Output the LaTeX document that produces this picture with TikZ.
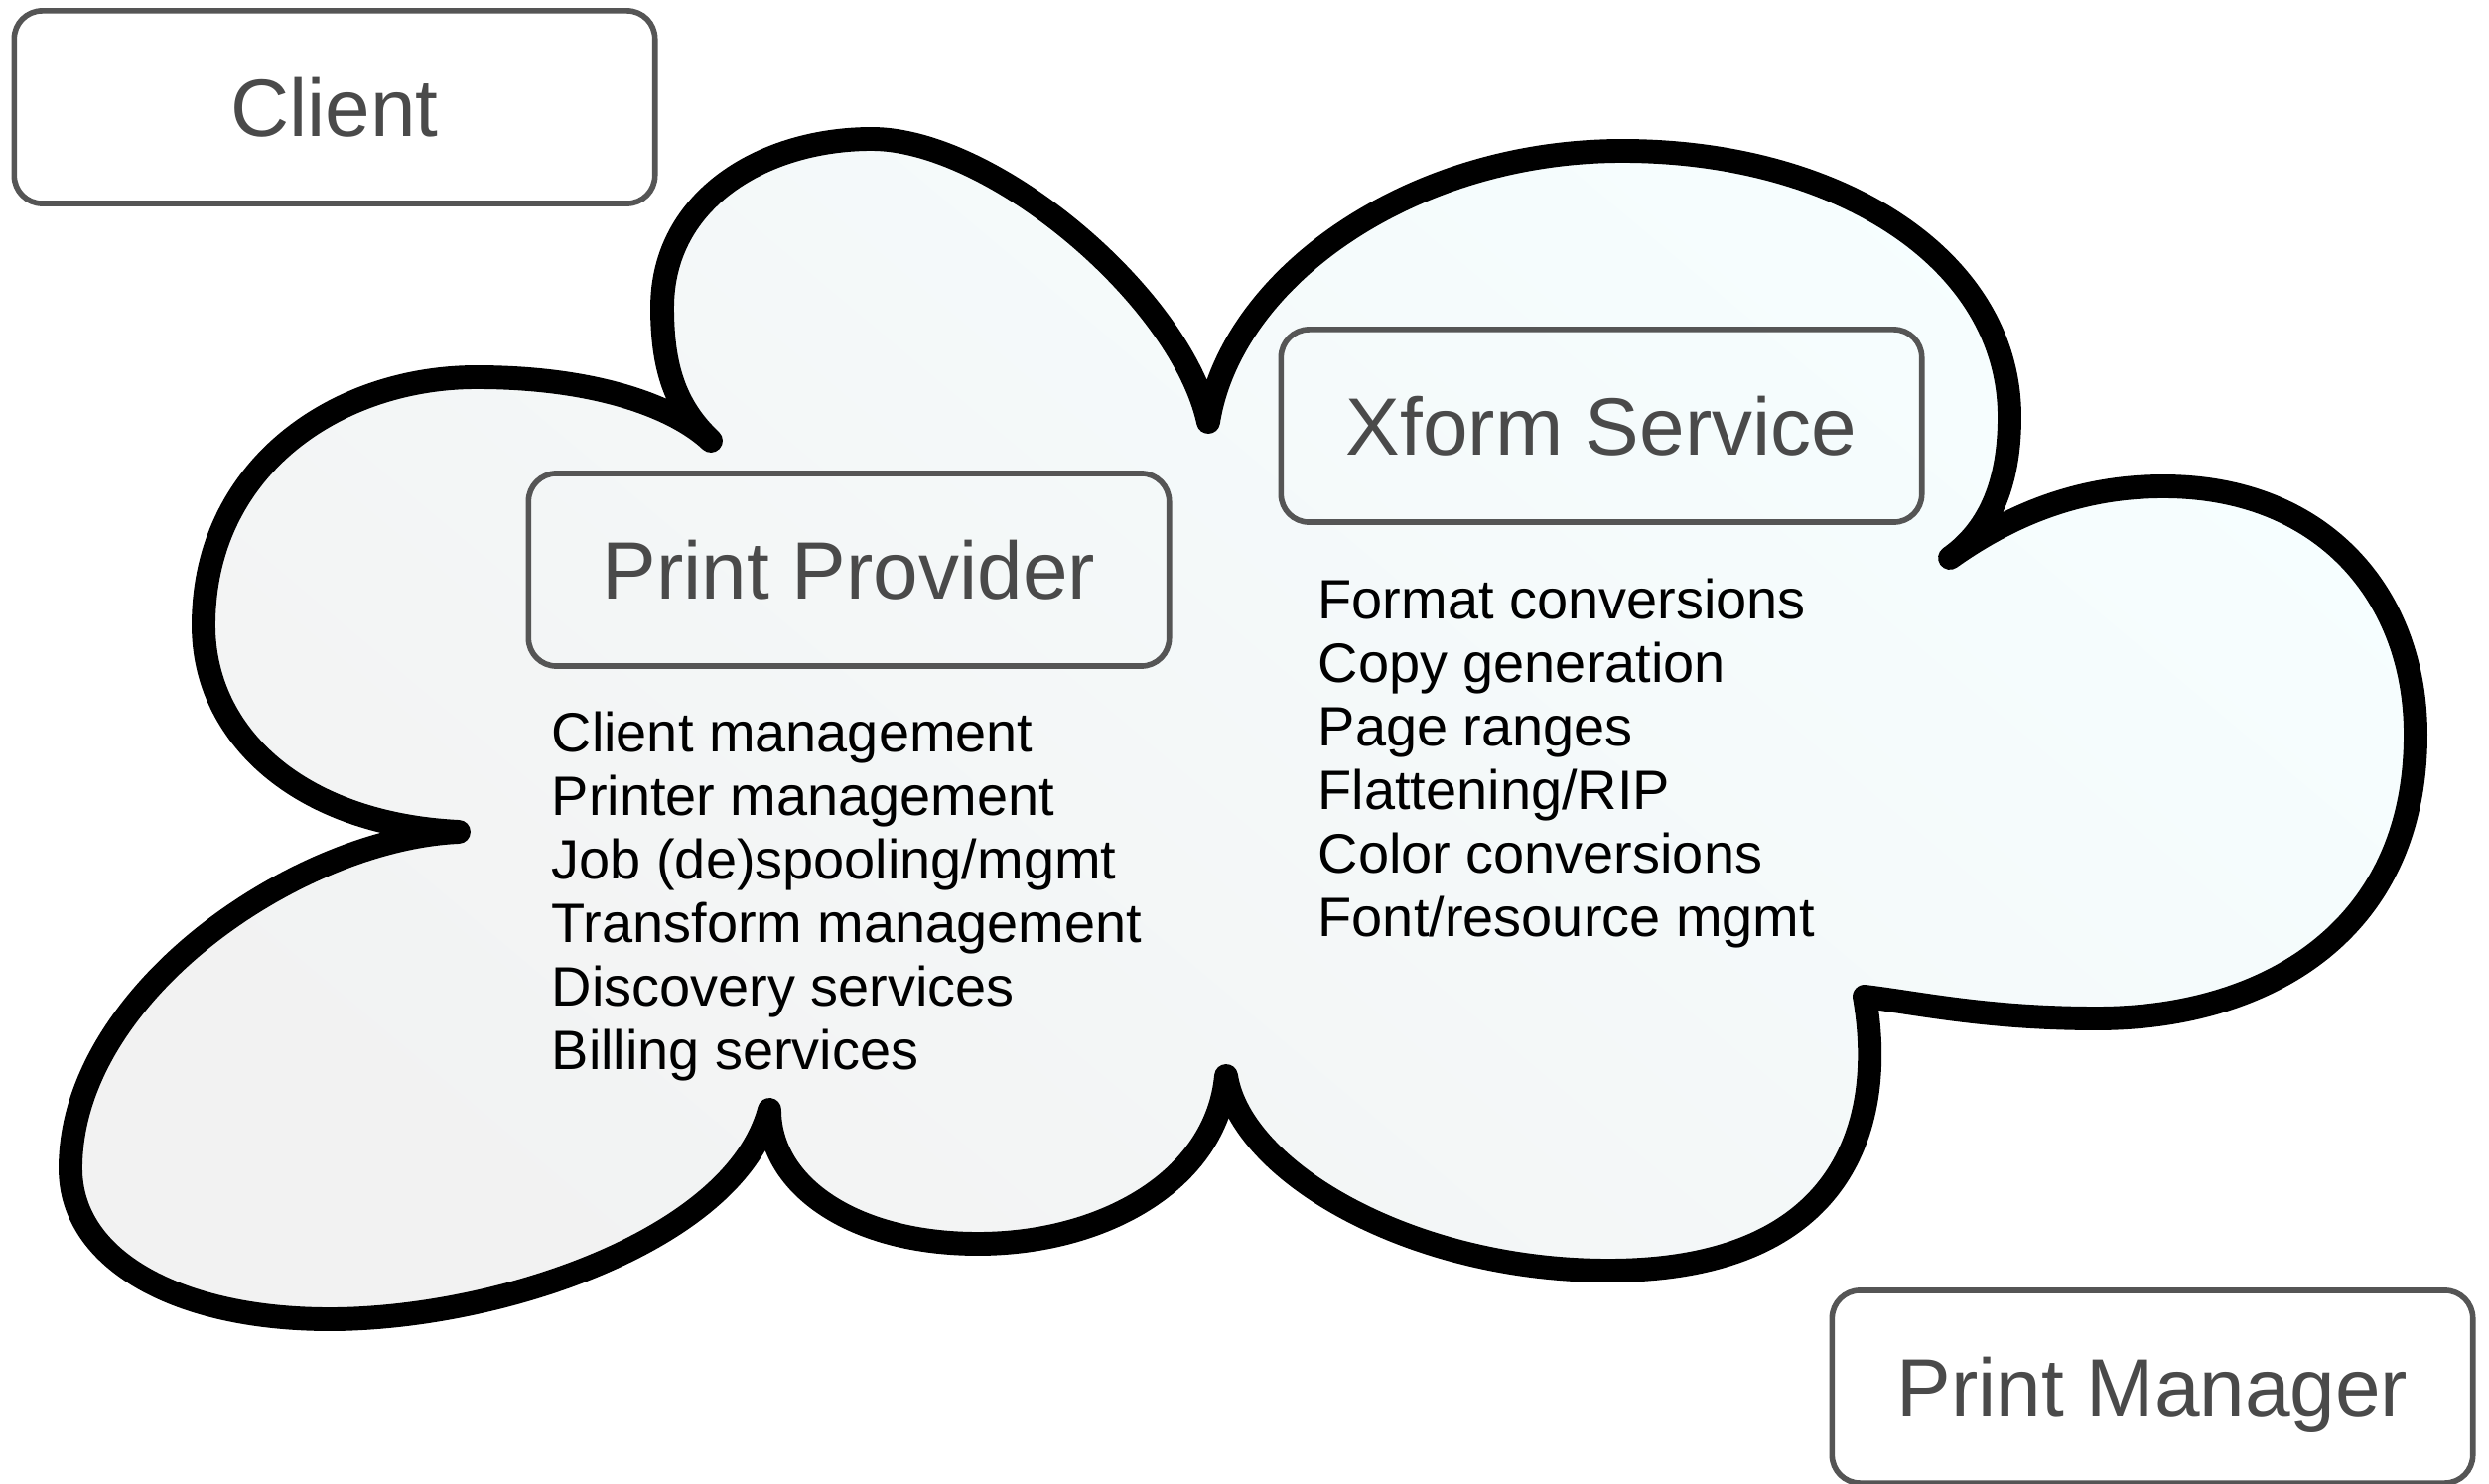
\documentclass[tikz,border=0pt]{standalone}
\usepackage{fontspec}
\setmainfont{Liberation Sans}
\usepackage{tikz}
\usepackage{xcolor}
\definecolor{boxgray}{HTML}{555555}
\definecolor{titlegray}{HTML}{4A4A4A}
\definecolor{cloudtint}{HTML}{F6FEFF}
\definecolor{cloudgray}{HTML}{F2F2F2}
\tikzset{
    label-box/.style = {draw=boxgray, line width=1.6pt, rectangle, rounded corners=8pt, minimum width=6.45cm, minimum height=1.94cm, text=titlegray, font=\fontsize{23.3}{28}\selectfont, text depth=0pt},
    item-list/.style = {anchor=north west, inner sep=0pt, align=left, font=\fontsize{15.9}{18.2}\selectfont},
    cloud-line/.style = {draw=black, line width=6.8pt, line join=round, left color=cloudtint, right color=cloudgray, shading angle=-40},
}

\begin{document}
\begin{tikzpicture}[x=0.01cm, y=-0.01cm]
\useasboundingbox (0,0) rectangle (2507,1495);
\draw[cloud-line] (462,838)
  .. controls (300,830) and (205,740) .. (205,630)
  .. controls (205,470) and (340,380) .. (480,380)
  .. controls (600,380) and (680,410) .. (716,444)
  .. controls (680,410) and (667,370) .. (667,310)
  .. controls (667,200) and (770,140) .. (878,140)
  .. controls (1000,140) and (1190,300) .. (1217,425)
  .. controls (1240,280) and (1420,152) .. (1634,152)
  .. controls (1850,152) and (2024,260) .. (2024,420)
  .. controls (2024,500) and (1995,540) .. (1964,562)
  .. controls (2030,515) and (2100,490) .. (2179,490)
  .. controls (2340,490) and (2433,600) .. (2433,740)
  .. controls (2433,940) and (2280,1026) .. (2112,1026)
  .. controls (2000,1026) and (1930,1010) .. (1878,1004)
  .. controls (1900,1130) and (1860,1280) .. (1620,1280)
  .. controls (1420,1280) and (1250,1180) .. (1235,1084)
  .. controls (1225,1190) and (1110,1253) .. (985,1253)
  .. controls (860,1253) and (775,1195) .. (775,1118)
  .. controls (740,1250) and (500,1329) .. (332,1329)
  .. controls (180,1329) and (71,1270) .. (71,1177)
  .. controls (71,1000) and (300,845) .. (462,838)
  -- cycle;

\node[label-box, fill=white] (client) at (337,108) {Client};
\node[label-box] (provider) at (855,574) {Print Provider};
\node[label-box] (xform) at (1613,429) {Xform Service};
\node[label-box, fill=white] (manager) at (2168,1397) {Print Manager};

\node[item-list] (provider-list) at (555,716) {Client management\\Printer management\\Job (de)spooling/mgmt\\Transform management\\Discovery services\\Billing services};
\node[item-list] (xform-list) at (1327,582) {Format conversions\\Copy generation\\Page ranges\\Flattening/RIP\\Color conversions\\Font/resource mgmt};
\end{tikzpicture}
\end{document}
